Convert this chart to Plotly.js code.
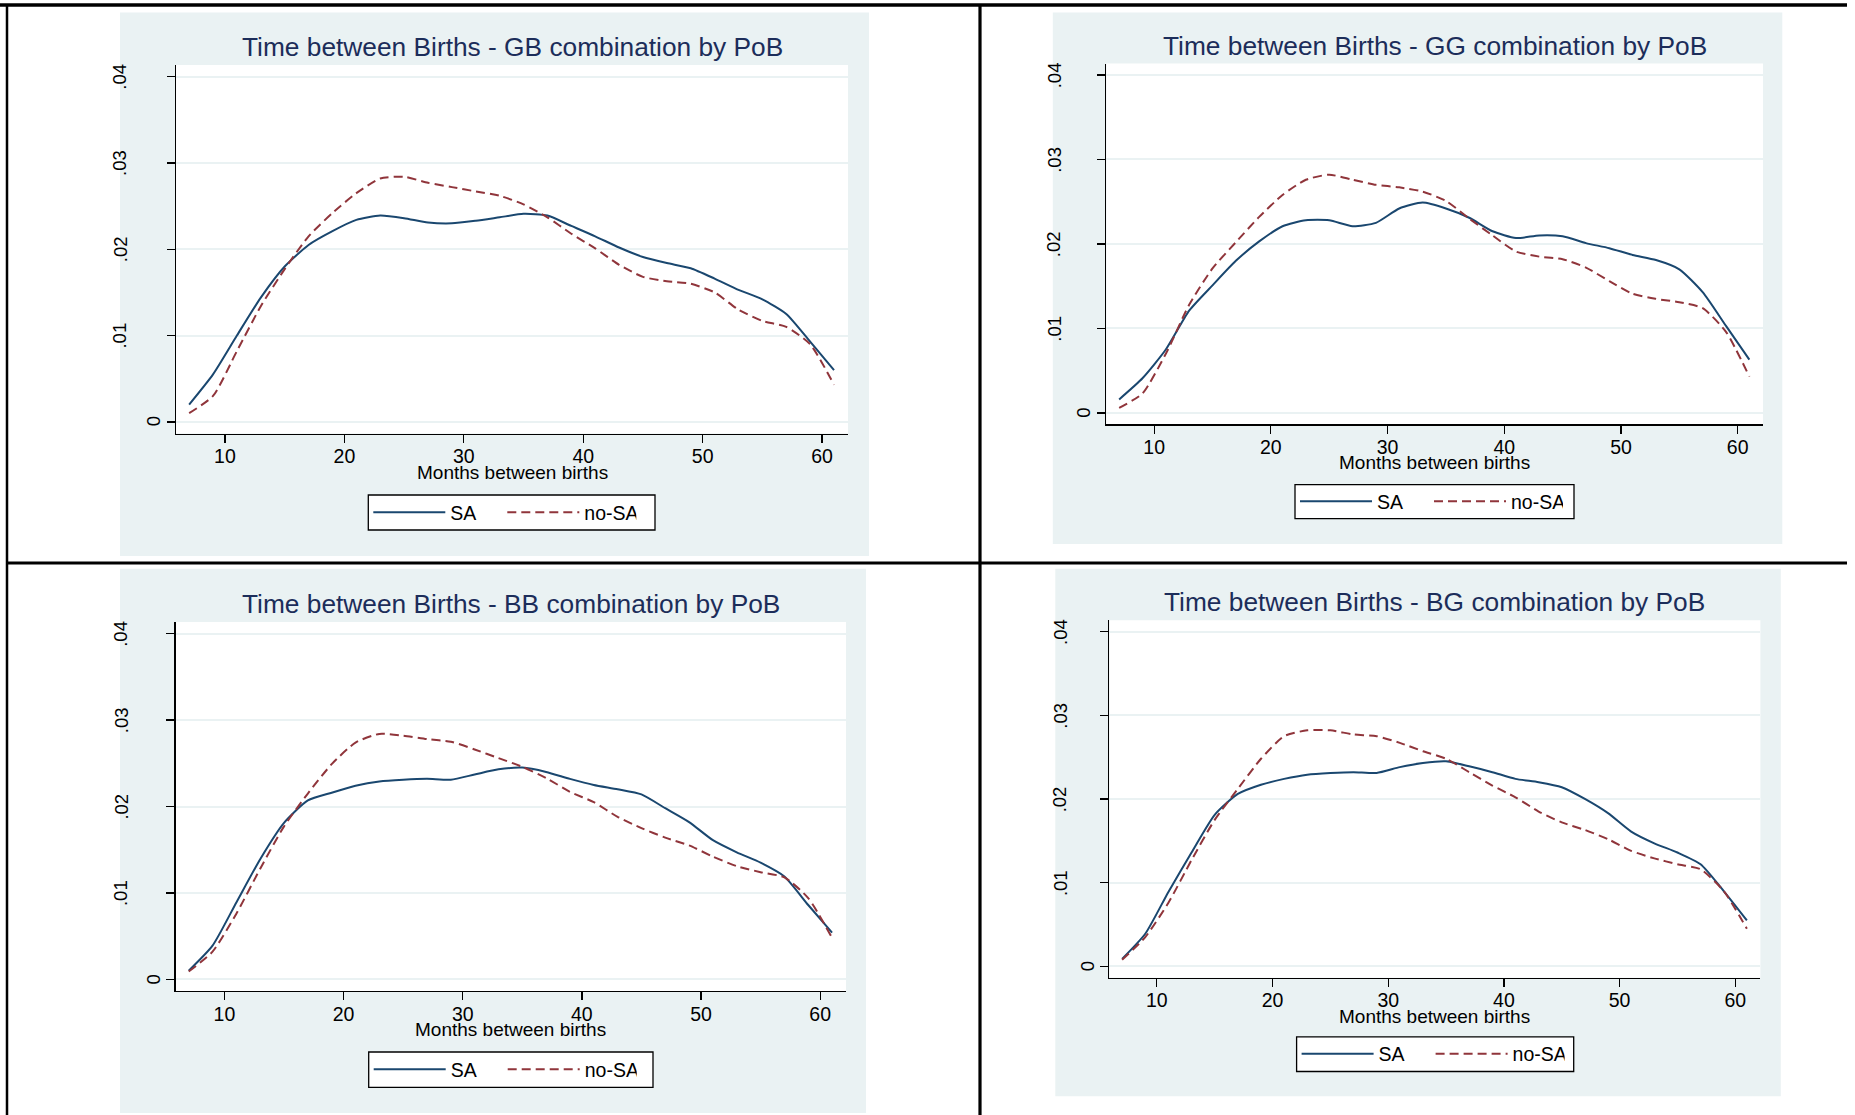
<!DOCTYPE html>
<html>
<head>
<meta charset="utf-8">
<script src="https://cdn.plot.ly/plotly-3.0.1.min.js"></script>
<style>
html,body{margin:0;padding:0;background:#ffffff;}
#chart{width:1855px;height:1115px;}
</style>
</head>
<body>
<div id="chart"></div>
<script>
// ---------------- DATA ----------------
const months = [7,9,11,13,15,17,19,21,23,25,27,29,31,33,35,37,39,41,43,45,47,49,51,53,55,57,59,61];

const gbSA   = [.0020,.0055,.0100,.0144,.0180,.0205,.0221,.0234,.0239,.0236,.0231,.0230,.0233,.0237,.0241,.0239,.0227,.0215,.0202,.0191,.0184,.0178,.0166,.0153,.0142,.0125,.0093,.0060];
const gbNoSA = [.0010,.0030,.0082,.0134,.0177,.0215,.0242,.0265,.0282,.0284,.0277,.0272,.0267,.0262,.0252,.0237,.0218,.0201,.0182,.0168,.0163,.0160,.0150,.0130,.0117,.0110,.0090,.0043];

const ggSA   = [.0016,.0041,.0075,.0121,.0151,.0180,.0203,.0221,.0228,.0228,.0221,.0225,.0242,.0249,.0242,.0231,.0215,.0207,.0210,.0209,.0201,.0195,.0187,.0181,.0170,.0143,.0103,.0063];
const ggNoSA = [.0006,.0023,.0070,.0128,.0171,.0202,.0232,.0258,.0276,.0282,.0276,.0270,.0267,.0262,.0251,.0230,.0210,.0191,.0185,.0182,.0172,.0156,.0141,.0135,.0131,.0124,.0096,.0043];

const bbSA   = [.0010,.0039,.0089,.0139,.0181,.0207,.0216,.0224,.0229,.0231,.0232,.0231,.0237,.0243,.0245,.0240,.0232,.0225,.0220,.0214,.0198,.0182,.0161,.0147,.0135,.0119,.0086,.0054];
const bbNoSA = [.0009,.0032,.0076,.0128,.0177,.0215,.0249,.0274,.0284,.0282,.0278,.0275,.0266,.0256,.0246,.0233,.0217,.0205,.0188,.0175,.0164,.0155,.0142,.0131,.0124,.0118,.0094,.0048];

const bgSA   = [.0009,.0039,.0089,.0136,.0181,.0206,.0217,.0224,.0229,.0231,.0232,.0231,.0238,.0243,.0245,.0239,.0232,.0224,.0220,.0214,.0200,.0183,.0161,.0147,.0136,.0122,.0090,.0055];
const bgNoSA = [.0008,.0035,.0076,.0127,.0175,.0212,.0248,.0275,.0282,.0282,.0277,.0275,.0267,.0257,.0248,.0232,.0216,.0202,.0185,.0172,.0163,.0152,.0138,.0129,.0122,.0116,.0090,.0045];

const panelTitles = [
  "Time between Births - GB combination by PoB",
  "Time between Births - GG combination by PoB",
  "Time between Births - BB combination by PoB",
  "Time between Births - BG combination by PoB"
];
const seriesNames = ["SA", "no-SA"];
const xTickVals = [10, 20, 30, 40, 50, 60];
const yTickVals = [0, 0.01, 0.02, 0.03, 0.04];
const yTickText = ["0", ".01", ".02", ".03", ".04"];
const xAxisTitle = "Months between births";

// ---------------- STYLE / LAYOUT ----------------
const W = 1855, H = 1115;
const FONT = "Liberation Sans, Arial, Helvetica, sans-serif";
const BG = "#eaf2f3";
const NAVY = "#1a476f";
const MAROON = "#90353b";
const TITLE_COLOR = "#1c2d5a";
const px = v => v / W;
const py = v => 1 - v / H;

// pixel geometry of each panel: plot area [x0,x1,y0,y1], background, legend box
const panels = [
  {sa: gbSA, no: gbNoSA, plot: [176, 848, 65, 433.5],        bg: [120, 869, 12.5, 556],        leg: [368.3, 655, 495, 530],       yOff: -56},
  {sa: ggSA, no: ggNoSA, plot: [1106.3, 1763, 63.6, 424.3],  bg: [1052.8, 1782.3, 12.5, 544],  leg: [1295, 1574, 484.6, 518.6],   yOff: -52},
  {sa: bbSA, no: bbNoSA, plot: [175.6, 846, 622, 991],       bg: [120, 866, 568.8, 1113],      leg: [368.7, 653, 1052, 1087.4],   yOff: -54.5},
  {sa: bgSA, no: bgNoSA, plot: [1109.4, 1760.4, 620.2, 977.7], bg: [1055.3, 1780.8, 568.8, 1096.3], leg: [1296.6, 1573.7, 1036.8, 1071.5], yOff: -49}
];

const traces = [];
const shapes = [];
const annotations = [];
const layout = {
  width: W, height: H,
  margin: {l: 0, r: 0, t: 0, b: 0, pad: 0},
  paper_bgcolor: "#ffffff",
  plot_bgcolor: "#ffffff",
  font: {family: FONT, color: "#000000", size: 19},
  showlegend: true,
  hovermode: false
};

panels.forEach((p, i) => {
  const n = i === 0 ? "" : String(i + 1);
  const xa = "x" + n, ya = "y" + n;
  const legId = "legend" + n;

  traces.push({
    x: months, y: p.sa, type: "scatter", mode: "lines", name: seriesNames[0],
    xaxis: xa, yaxis: ya, legend: legId,
    line: {color: NAVY, width: 2, shape: "spline", smoothing: 0.6}
  });
  traces.push({
    x: months, y: p.no, type: "scatter", mode: "lines", name: seriesNames[1],
    xaxis: xa, yaxis: ya, legend: legId,
    line: {color: MAROON, width: 2, dash: "9px,5px", shape: "spline", smoothing: 0.6}
  });

  layout["xaxis" + n] = {
    domain: [px(p.plot[0]), px(p.plot[1])],
    anchor: ya,
    range: [5.9, 62.17],
    tickmode: "array", tickvals: xTickVals,
    ticks: "outside", ticklen: 8, tickwidth: 1.3, tickcolor: "#000",
    showline: true, linecolor: "#000", linewidth: 1.3,
    showgrid: false, zeroline: false,
    tickfont: {family: FONT, size: 19.5, color: "#000"},
    ticklabelstandoff: -3,
    fixedrange: true
  };
  layout["yaxis" + n] = {
    domain: [py(p.plot[3]), py(p.plot[2])],
    anchor: xa,
    range: [-0.00135, 0.04135],
    tickmode: "array", tickvals: yTickVals,
    ticks: "outside", ticklen: 8, tickwidth: 1.3, tickcolor: "#000",
    showline: true, linecolor: "#000", linewidth: 1.3,
    showgrid: true, gridcolor: BG, gridwidth: 2,
    zeroline: false, showticklabels: false,
    fixedrange: true
  };

  // legend entries (box drawn as a shape so that its size matches the reference)
  layout[legId] = {
    orientation: "h",
    x: px(p.leg[0]), xanchor: "left",
    y: py((p.leg[2] + p.leg[3]) / 2), yanchor: "middle",
    bgcolor: "rgba(0,0,0,0)", borderwidth: 0,
    font: {family: FONT, size: 19.5, color: "#000"},
    itemwidth: 72,
    entrywidth: 47,
    entrywidthmode: "pixels",
    itemclick: false, itemdoubleclick: false
  };

  // panel background then white plot region
  shapes.push({type: "rect", xref: "paper", yref: "paper", layer: "below",
    x0: px(p.bg[0]), x1: px(p.bg[1]), y0: py(p.bg[3]), y1: py(p.bg[2]),
    fillcolor: BG, line: {width: 0}});
  shapes.push({type: "rect", xref: xa + " domain", yref: ya + " domain", layer: "below",
    x0: 0, x1: 1, y0: 0, y1: 1, fillcolor: "#ffffff", line: {width: 0}});
  // legend frame
  shapes.push({type: "rect", xref: "paper", yref: "paper", layer: "above",
    x0: px(p.leg[0]), x1: px(p.leg[1]), y0: py(p.leg[3]), y1: py(p.leg[2]),
    fillcolor: "#ffffff", line: {color: "#000", width: 1.3}});

  // title
  annotations.push({xref: xa + " domain", yref: ya + " domain", x: 0.5, y: 1,
    xanchor: "center", yanchor: "middle", yshift: 18, showarrow: false,
    text: panelTitles[i], font: {family: FONT, size: 26.3, color: TITLE_COLOR}});
  // x axis title
  annotations.push({xref: xa + " domain", yref: ya + " domain", x: 0.5, y: 0,
    xanchor: "center", yanchor: "middle", yshift: -38.5, showarrow: false,
    text: xAxisTitle, font: {family: FONT, size: 19, color: "#000"}});
  // y tick labels (vertical, Stata style)
  yTickVals.forEach((v, k) => {
    annotations.push({xref: xa + " domain", yref: ya, x: 0, y: v,
      xanchor: "center", yanchor: "middle", xshift: v === 0 ? -22.5 : p.yOff,
      textangle: -90, showarrow: false, text: yTickText[k],
      font: {family: FONT, size: 18.5, color: "#000"}});
  });
});

// table borders of the page
const border = (x0, y0, x1, y1, w) => shapes.push({type: "line", xref: "paper", yref: "paper",
  x0: px(x0), y0: py(y0), x1: px(x1), y1: py(y1), line: {color: "#000", width: w}, layer: "above"});
border(0, 5, 1847, 5, 3.3);
border(7, 5, 7, 1115, 2.5);
border(980, 5, 980, 1115, 3.2);
border(7, 563, 1847, 563, 2.8);

layout.shapes = shapes;
layout.annotations = annotations;

Plotly.newPlot("chart", traces, layout, {staticPlot: true, displayModeBar: false});
</script>
</body>
</html>
